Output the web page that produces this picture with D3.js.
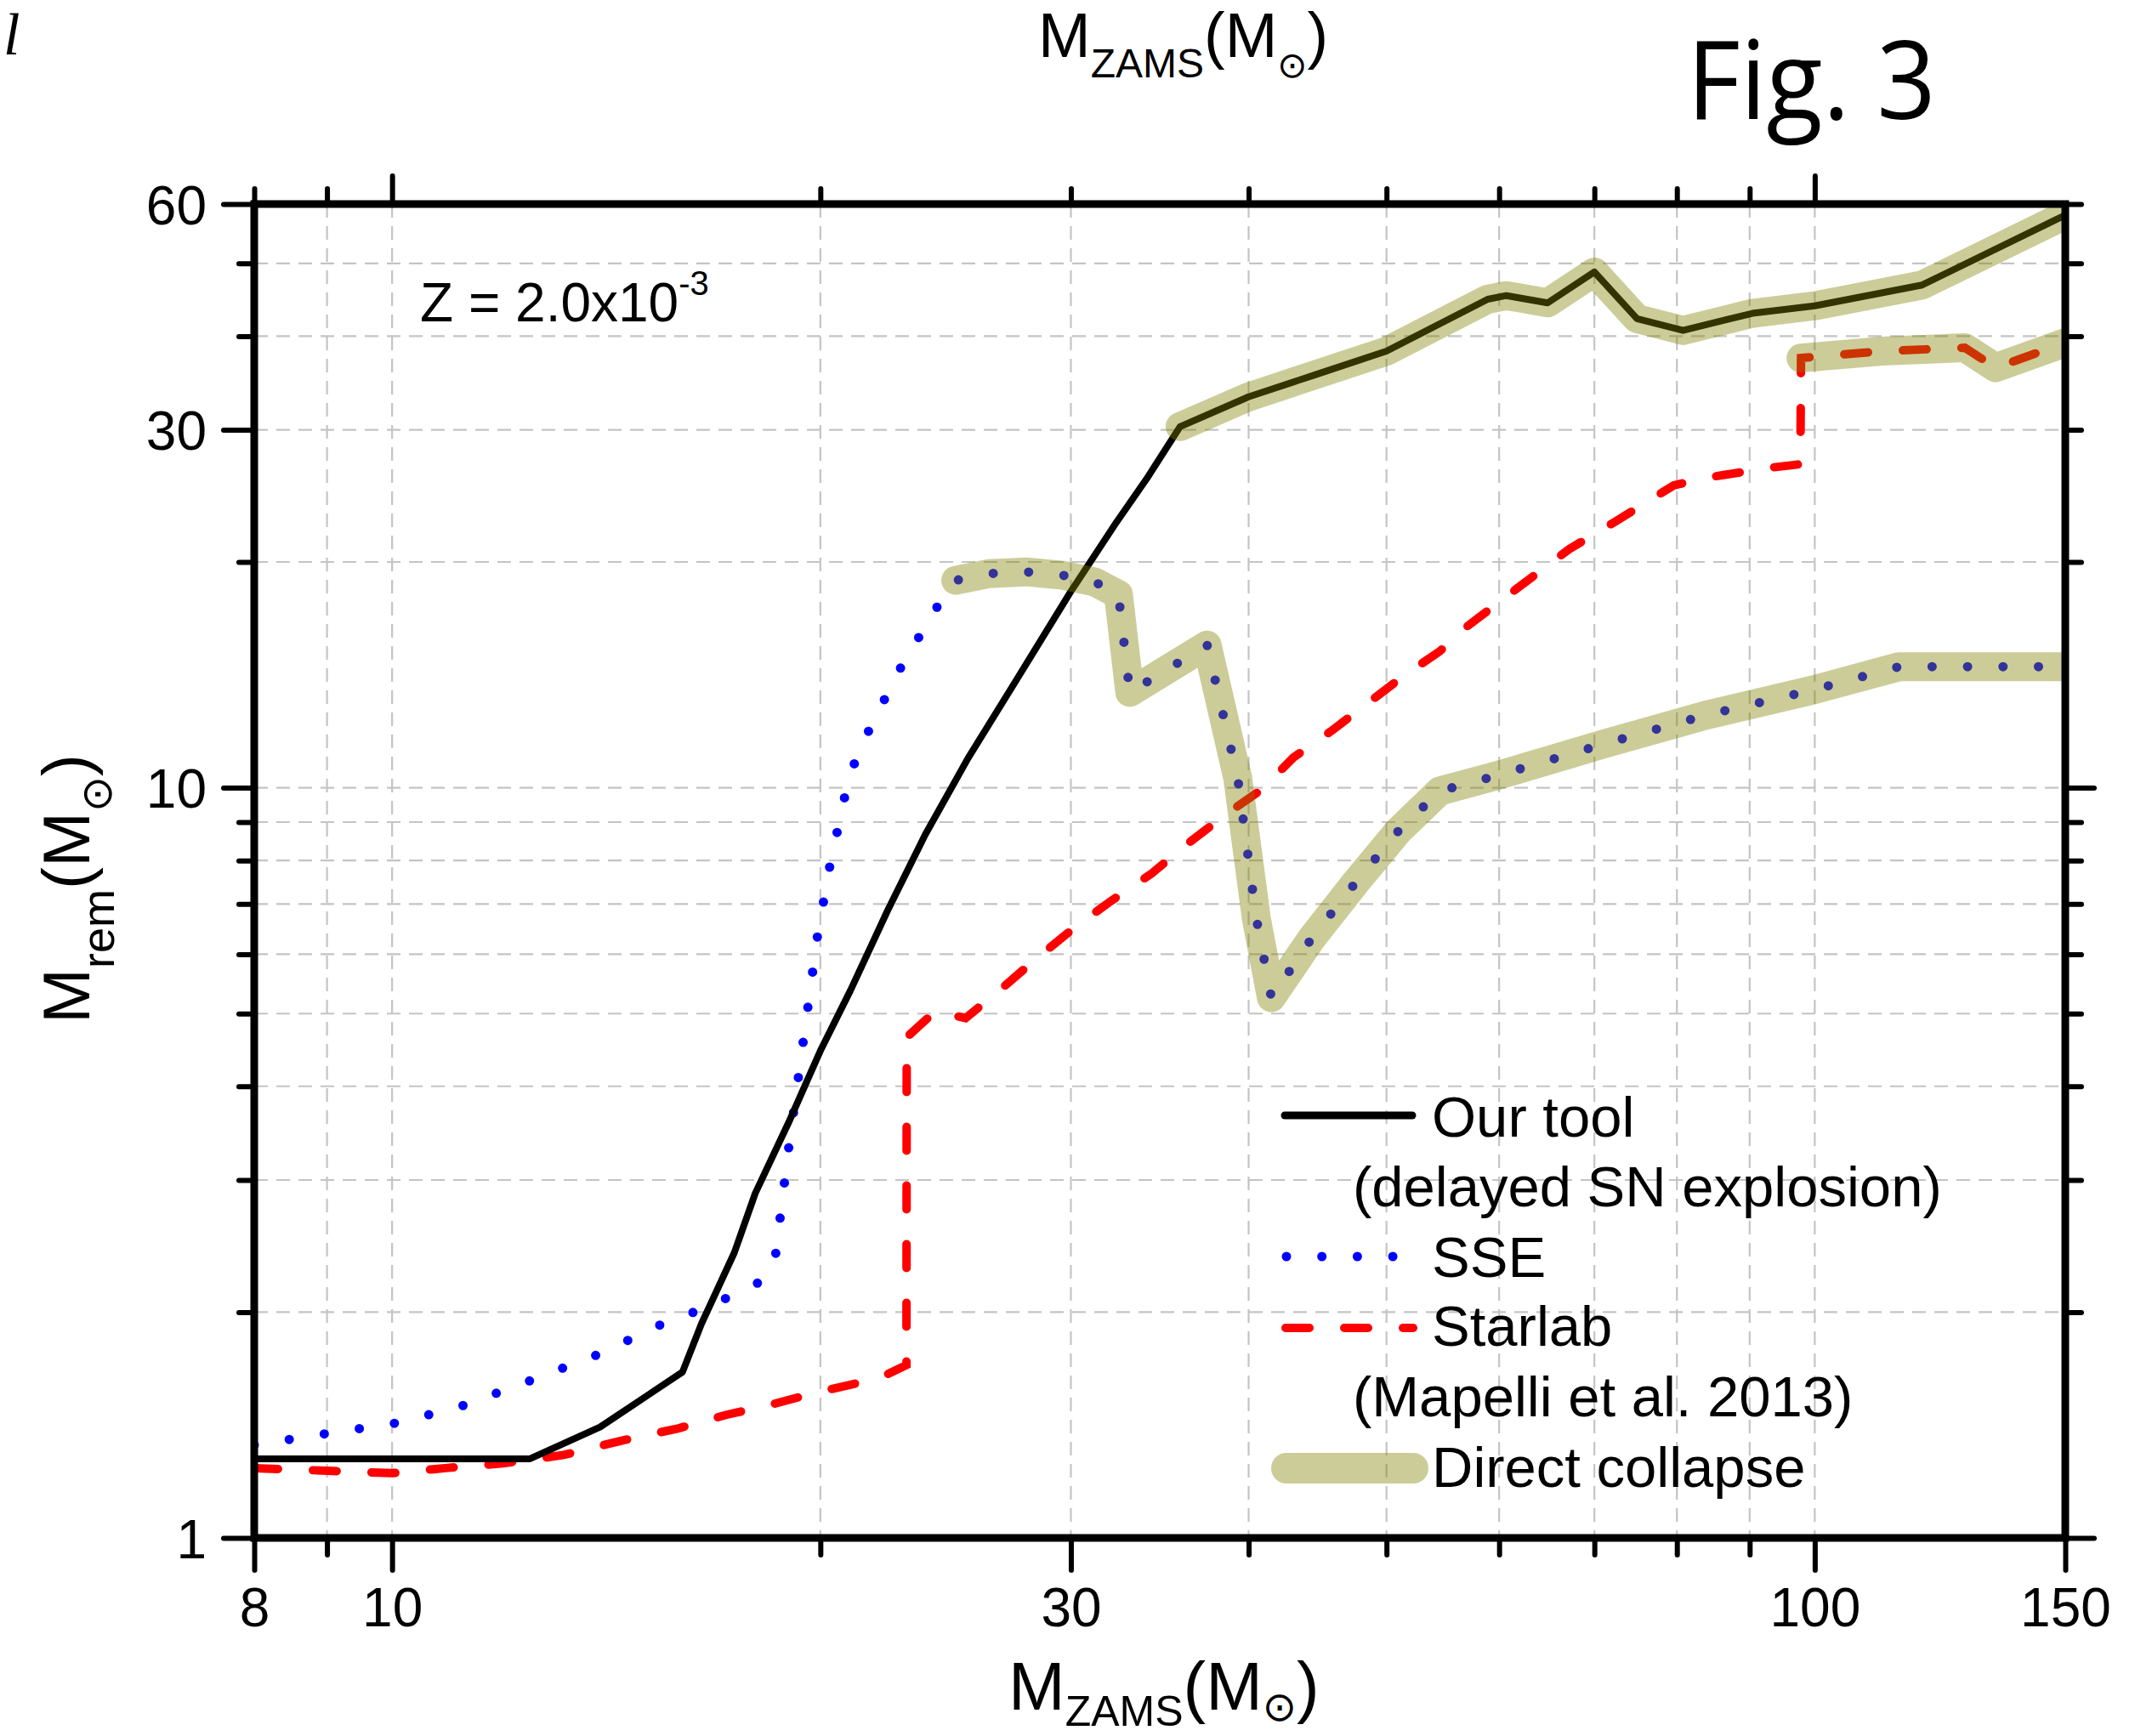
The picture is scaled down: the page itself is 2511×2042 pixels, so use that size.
<!DOCTYPE html>
<html><head><meta charset="utf-8">
<script src="https://cdn.jsdelivr.net/npm/d3@7"></script>
<style>body{margin:0;background:#fff}svg{display:block}</style>
</head><body>
<script>
// ---------- data ----------
const ourToolMass = [8, 12.5, 14.0, 16.0, 16.5, 17.4, 18.0, 19.0, 20.0, 21.0, 22.3, 23.7, 25.4, 27.5, 30.0, 32.3, 34.0, 35.8, 40, 44.5, 50, 58.9, 60.7, 64.9, 70, 75, 80.8, 90.4, 100, 119, 150];
const ourToolRem  = [1.275, 1.275, 1.405, 1.664, 1.93, 2.40, 2.88, 3.58, 4.46, 5.37, 6.86, 8.66, 10.95, 13.97, 18.27, 22.6, 26.0, 30.3, 33.2, 35.5, 38.2, 44.8, 45.3, 44.3, 48.7, 42.2, 40.7, 42.9, 43.9, 46.8, 58.0];

const sseMass = [8, 9, 10.1, 11.2, 12.5, 14.0, 15.4, 16.3, 17.2, 18.1, 18.6, 19.0, 19.3, 19.6, 19.9, 20.3, 20.8, 21.1, 21.6, 22.7, 24.1, 24.9, 26.3, 27.9, 29.6, 31.2, 32.4, 33.0, 37.4, 39.3, 40.5, 41.5, 44.3, 47.6, 51.0, 54.5, 60, 71.1, 83.9, 99.7, 114.6, 150];
const sseRem  = [1.33, 1.378, 1.424, 1.50, 1.62, 1.76, 1.92, 2.0, 2.09, 2.19, 2.38, 3.31, 4.11, 5.1, 6.32, 7.83, 9.71, 10.7, 11.85, 14.3, 17.3, 18.9, 19.3, 19.4, 19.2, 18.8, 18.1, 13.4, 15.5, 10.3, 6.7, 5.25, 6.30, 7.49, 8.77, 9.9, 10.4, 11.44, 12.5, 13.5, 14.5, 14.5];

const starlabMass = [8, 9, 10, 10.9, 12.0, 13.2, 14.5, 15.9, 17.2, 18.5, 19.9, 22.0, 22.99, 23.0, 24.1, 25.3, 26.7, 28.4, 30.3, 32.0, 34.2, 36.2, 38.6, 40.9, 43.0, 45.8, 48.6, 51.4, 54.5, 56.7, 59.8, 63.3, 67.2, 72.3, 79.6, 83.9, 92.9, 97.7, 97.8, 111.5, 127.5, 134, 150];
const starlabRem  = [1.239, 1.229, 1.22, 1.239, 1.258, 1.29, 1.348, 1.40, 1.46, 1.507, 1.564, 1.633, 1.70, 4.65, 5.04, 4.93, 5.36, 5.93, 6.55, 7.06, 7.69, 8.41, 9.23, 9.96, 10.97, 11.93, 13.0, 14.1, 15.2, 16.3, 17.6, 19.1, 20.8, 22.6, 25.3, 25.9, 26.7, 27.0, 37.4, 38.2, 38.6, 36.3, 39.2];

// direct-collapse mass ranges for each model
const dcOurTool = [35.8, 150];
const dcSSE = [24.9, 150];
const dcStarlab = [97.8, 150];

const xMajorTicks = [8, 10, 30, 100, 150];
const xMinorTicks = [9, 20, 40, 50, 60, 70, 80, 90];
const xTopMajor = [10, 100];
const xTopMinor = [8, 9, 20, 30, 40, 50, 60, 70, 80, 90];
const yLeftMajor = [1, 10, 30, 60];
const yLeftMinor = [2, 3, 4, 5, 6, 7, 8, 9, 20, 40, 50];
const yRightMajor = [1, 10];
const yRightMinor = [2, 3, 4, 5, 6, 7, 8, 9, 20, 30, 40, 50, 60];
const xGrid = [9, 10, 20, 30, 40, 50, 60, 70, 80, 90, 100];
const yGrid = [2, 3, 4, 5, 6, 7, 8, 9, 10, 20, 30, 40, 50];

const legendLabels = ["Our tool", "(delayed SN explosion)", "SSE", "Starlab", "(Mapelli et al. 2013)", "Direct collapse"];
const zLabel = "Z = 2.0x10";
const zExp = "-3";

// ---------- layout ----------
const W = 2511, H = 2042;
const L = 299, R = 2429, T = 240, B = 1809;
const FONT = "'Liberation Sans', Arial, Helvetica, sans-serif";

const svg = d3.select("body").append("svg").attr("width", W).attr("height", H)
  .style("font-family", FONT);

const x = d3.scaleLog().domain([8, 150]).range([L, R]);
const y = d3.scaleLog().domain([1, 60]).range([B, T]);

svg.append("defs").append("clipPath").attr("id", "plotclip")
  .append("rect").attr("x", L).attr("y", T).attr("width", R - L).attr("height", B - T);

// grid
const grid = svg.append("g");
grid.selectAll("line.gx").data(xGrid).join("line")
  .attr("x1", d => x(d)).attr("x2", d => x(d)).attr("y1", T).attr("y2", B)
  .attr("stroke", "#c4c4c4").attr("stroke-width", 2.2).attr("stroke-dasharray", "16 10");
grid.selectAll("line.gy").data(yGrid).join("line")
  .attr("y1", d => y(d)).attr("y2", d => y(d)).attr("x1", L).attr("x2", R)
  .attr("stroke", "#c4c4c4").attr("stroke-width", 2.2).attr("stroke-dasharray", "16 10");

const zip = (a, b) => a.map((v, i) => [v, b[i]]);
const line = d3.line().x(d => x(d[0])).y(d => y(d[1]));
const plot = svg.append("g").attr("clip-path", "url(#plotclip)");

const starlab = zip(starlabMass, starlabRem);
const sse = zip(sseMass, sseRem);
const ours = zip(ourToolMass, ourToolRem);

plot.append("path").datum(starlab).attr("d", line).attr("fill", "none")
  .attr("stroke", "#ff0000").attr("stroke-width", 10).attr("stroke-linecap", "round")
  .attr("stroke-dasharray", "28 41");
plot.append("path").datum(sse).attr("d", line).attr("fill", "none")
  .attr("stroke", "#0000ff").attr("stroke-width", 11).attr("stroke-linecap", "round")
  .attr("stroke-dasharray", "0 41.7");
plot.append("path").datum(ours).attr("d", line).attr("fill", "none")
  .attr("stroke", "#000").attr("stroke-width", 8).attr("stroke-linejoin", "round");

// direct collapse bands (semi-transparent olive over the curves)
function dcBand(data, range) {
  const pts = data.filter(d => d[0] >= range[0] && d[0] <= range[1]);
  plot.append("path").datum(pts).attr("d", line).attr("fill", "none")
    .attr("stroke", "#808000").attr("stroke-opacity", 0.4).attr("stroke-width", 34)
    .attr("stroke-linecap", "round").attr("stroke-linejoin", "round");
}
dcBand(ours, dcOurTool);
dcBand(sse, dcSSE);
dcBand(starlab, dcStarlab);

// axes
function styleAxis(g) {
  g.select(".domain").remove();
  g.selectAll(".tick line").attr("stroke", "#000").attr("stroke-width", 6).attr("stroke-linecap", "round");
  g.selectAll(".tick text").attr("fill", "#000").style("font-family", FONT).style("font-size", "64px");
}
const fmt = d => String(d);
svg.append("g").attr("transform", `translate(0,${B})`)
  .call(d3.axisBottom(x).tickValues(xMinorTicks).tickSize(20).tickFormat(() => "")).call(styleAxis);
svg.append("g").attr("transform", `translate(0,${B})`)
  .call(d3.axisBottom(x).tickValues(xMajorTicks).tickSize(38).tickFormat(fmt)).call(styleAxis)
  .call(g => g.selectAll(".tick text").attr("y", 104).attr("dy", "0"));
svg.append("g").attr("transform", `translate(0,${T})`)
  .call(d3.axisTop(x).tickValues(xTopMinor).tickSize(18).tickFormat(() => "")).call(styleAxis);
svg.append("g").attr("transform", `translate(0,${T})`)
  .call(d3.axisTop(x).tickValues(xTopMajor).tickSize(33).tickFormat(() => "")).call(styleAxis);
svg.append("g").attr("transform", `translate(${L},0)`)
  .call(d3.axisLeft(y).tickValues(yLeftMinor).tickSize(18).tickFormat(() => "")).call(styleAxis);
svg.append("g").attr("transform", `translate(${L},0)`)
  .call(d3.axisLeft(y).tickValues(yLeftMajor).tickSize(36).tickFormat(fmt)).call(styleAxis)
  .call(g => g.selectAll(".tick text").attr("x", -56).attr("dy", "0.36em"));
svg.append("g").attr("transform", `translate(${R},0)`)
  .call(d3.axisRight(y).tickValues(yRightMinor).tickSize(19).tickFormat(() => "")).call(styleAxis);
svg.append("g").attr("transform", `translate(${R},0)`)
  .call(d3.axisRight(y).tickValues(yRightMajor).tickSize(34).tickFormat(() => "")).call(styleAxis);

// frame
svg.append("rect").attr("x", L).attr("y", T).attr("width", R - L).attr("height", B - T)
  .attr("fill", "none").attr("stroke", "#000").attr("stroke-width", 9);

// axis titles
function massTitle(sel, sub, subSize, subDy, sunSize, sunDy) {
  sel.append("tspan").text("M");
  sel.append("tspan").attr("font-size", subSize).attr("dy", subDy).text(sub);
  sel.append("tspan").attr("dy", -subDy).text("(M");
  sel.append("tspan").attr("font-size", sunSize).attr("dy", sunDy)
    .style("font-family", "'DejaVu Sans', sans-serif").text("\u2299");
  sel.append("tspan").attr("dy", -sunDy).text(")");
}
svg.append("text").attr("x", 1186).attr("y", 2011).attr("font-size", 80).attr("fill", "#000")
  .call(s => massTitle(s, "ZAMS", 50, 19, 48, 13));
svg.append("text").attr("x", 1221).attr("y", 67).attr("font-size", 74).attr("fill", "#000")
  .call(s => massTitle(s, "ZAMS", 48, 24, 42, 24));
svg.append("text").attr("transform", "translate(105,1204) rotate(-90)").attr("font-size", 78).attr("fill", "#000")
  .call(s => massTitle(s, "rem", 54, 29, 50, 26));

// Z label
const zt = svg.append("text").attr("x", 494).attr("y", 378).attr("font-size", 64).attr("fill", "#000");
zt.append("tspan").text(zLabel);
zt.append("tspan").attr("font-size", 40).attr("dy", -31).text(zExp);

// Fig. 3
svg.append("text").attr("x", 1984).attr("y", 140).attr("font-size", 128)
  .attr("textLength", 293).attr("lengthAdjust", "spacingAndGlyphs")
  .style("font-family", "'Open Sans', 'Noto Sans', sans-serif").attr("fill", "#000").text("Fig. 3");

// corner glyph
svg.append("text").attr("x", 4).attr("y", 64).attr("font-size", 70).attr("font-style", "italic")
  .style("font-family", "'Liberation Serif', 'DejaVu Serif', serif").attr("fill", "#000").text("l");

// legend
const lg = svg.append("g");
const lgText = [[1684, 1337], [1591, 1419], [1684, 1502], [1684, 1583], [1591, 1666], [1684, 1749]];
lg.selectAll("text").data(legendLabels).join("text")
  .attr("x", (d, i) => lgText[i][0]).attr("y", (d, i) => lgText[i][1])
  .attr("font-size", 67).attr("fill", "#000").text(d => d);
lg.append("line").attr("x1", 1511).attr("x2", 1661).attr("y1", 1312).attr("y2", 1312)
  .attr("stroke", "#000").attr("stroke-width", 9).attr("stroke-linecap", "round");
lg.append("line").attr("x1", 1513).attr("x2", 1640).attr("y1", 1478).attr("y2", 1478)
  .attr("stroke", "#0000ff").attr("stroke-width", 11).attr("stroke-linecap", "round").attr("stroke-dasharray", "0 41.7");
lg.append("line").attr("x1", 1512).attr("x2", 1662).attr("y1", 1562).attr("y2", 1562)
  .attr("stroke", "#ff0000").attr("stroke-width", 10).attr("stroke-linecap", "round").attr("stroke-dasharray", "28 41");
lg.append("line").attr("x1", 1513).attr("x2", 1662).attr("y1", 1727).attr("y2", 1727)
  .attr("stroke", "#808000").attr("stroke-opacity", 0.4).attr("stroke-width", 36).attr("stroke-linecap", "round");
</script>
</body></html>
